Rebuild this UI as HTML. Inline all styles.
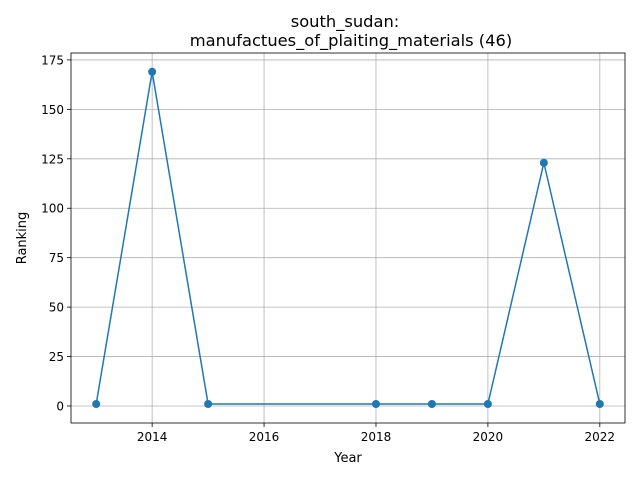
<!DOCTYPE html>
<html><head><meta charset="utf-8"><style>
body{margin:0;background:#fff;font-family:"Liberation Sans","DejaVu Sans",sans-serif}
svg text{font-family:"DejaVu Sans","Liberation Sans",sans-serif}
</style></head><body>
<svg id="chart" width="640" height="480">
<rect width="640" height="480" fill="#fff"/>
<text x="345" y="27" font-size="16.3" text-anchor="middle">south_sudan:</text>
<text x="351" y="46" font-size="16.3" text-anchor="middle">manufactues_of_plaiting_materials (46)</text>
<g id="grid"></g><g id="axes"></g><g id="series"></g>
<text x="348" y="462" font-size="13" text-anchor="middle">Year</text>
<text x="26" y="238" font-size="13" text-anchor="middle" transform="rotate(-90 26 238)">Ranking</text>
</svg>
<script>
const years=[2013,2014,2015,2018,2019,2020,2021,2022];
const ranks=[1,169,1,1,1,1,123,1];
const xTicks=[2014,2016,2018,2020,2022];
const yTicks=[0,25,50,75,100,125,150,175];
const L=71,R=625,T=53,B=423;
const xmin=2012.55,xmax=2022.45,ymin=-8.6,ymax=178.5;
const X=v=>L+(v-xmin)/(xmax-xmin)*(R-L);
const Y=v=>B-(v-ymin)/(ymax-ymin)*(B-T);
const NS="http://www.w3.org/2000/svg";
function mk(tag,attrs,parent){const e=document.createElementNS(NS,tag);for(const k in attrs)e.setAttribute(k,attrs[k]);document.getElementById(parent).appendChild(e);return e;}
xTicks.forEach(t=>{
 const g=mk('line',{x1:X(t),x2:X(t),y1:T,y2:B,stroke:'#b0b0b0','stroke-width':0.8},'grid');
 
 
 const tk=mk('line',{x1:X(t),x2:X(t),y1:B,y2:B+4,stroke:'#000','stroke-width':0.8},'axes');
 
 
 const tx=mk('text',{x:X(t),y:B+18,'font-size':12,'text-anchor':'middle'},'axes');
 tx.textContent=t;
 
 
});
yTicks.forEach(t=>{
 const g=mk('line',{x1:L,x2:R,y1:Y(t),y2:Y(t),stroke:'#b0b0b0','stroke-width':0.8},'grid');
 
 
 const tk=mk('line',{x1:L-4,x2:L,y1:Y(t),y2:Y(t),stroke:'#000','stroke-width':0.8},'axes');
 
 
 const tx=mk('text',{x:L-7,y:Y(t)+4.5,'font-size':12,'text-anchor':'end'},'axes');
 tx.textContent=t;
 
 
});
const frame=mk('rect',{x:L,y:T,width:R-L,height:B-T,fill:'none',stroke:'#000','stroke-width':0.8},'axes');


const line=mk('polyline',{points:years.map((y,i)=>X(y)+','+Y(ranks[i])).join(' '),fill:'none',stroke:'#1f77b4','stroke-width':1.5},'series');


years.forEach((y,i)=>{
 const c=mk('circle',{cx:X(y),cy:Y(ranks[i]),r:4,fill:'#1f77b4'},'series');
 
 
});
</script>
</body></html>
